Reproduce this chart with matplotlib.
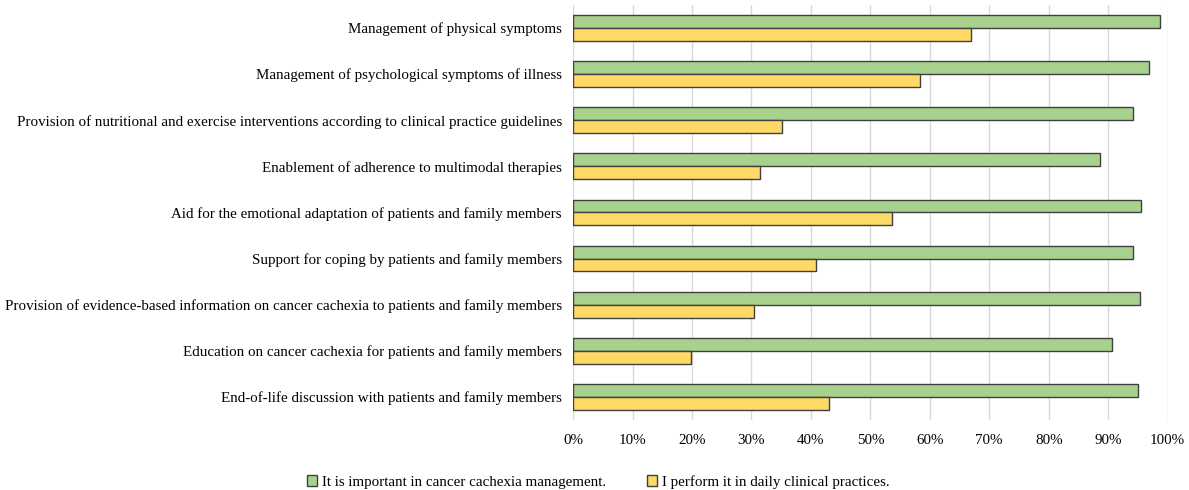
import matplotlib.pyplot as plt
import numpy as np

plt.rcParams['font.family'] = ['Liberation Serif', 'DejaVu Serif']

categories = [
    "Management of physical symptoms",
    "Management of psychological symptoms of illness",
    "Provision of nutritional and exercise interventions according to clinical practice guidelines",
    "Enablement of adherence to multimodal therapies",
    "Aid for the emotional adaptation of patients and family members",
    "Support for coping by patients and family members",
    "Provision of evidence-based information on cancer cachexia to patients and family members",
    "Education on cancer cachexia for patients and family members",
    "End-of-life discussion with patients and family members",
]
important = [98.7, 96.8, 94.1, 88.6, 95.6, 94.1, 95.4, 90.7, 95.0]
perform = [67.0, 58.4, 35.2, 31.5, 53.7, 40.9, 30.5, 19.8, 43.0]
series_names = ["It is important in cancer cachexia management.",
                "I perform it in daily clinical practices."]

fig = plt.figure(figsize=(11.89, 4.9), dpi=100)
axes = fig.add_axes([0.482, 0.143, 0.5, 0.847])

y = np.arange(len(categories))
h = 0.28
axes.barh(y - h/2, important, height=h, color='#A9D18E', edgecolor='#404040',
          linewidth=1.0, label=series_names[0], zorder=3)
axes.barh(y + h/2, perform, height=h, color='#FFD966', edgecolor='#404040',
          linewidth=1.0, label=series_names[1], zorder=3)

axes.set_ylim(len(categories) - 0.5, -0.5)
axes.set_yticks(y)
axes.set_yticklabels(categories, fontsize=10.8)
axes.set_xlim(0, 100)
axes.set_xticks(np.arange(0, 101, 10))
axes.set_xticklabels([f"{v}%" for v in range(0, 101, 10)], fontsize=10.8)
axes.grid(axis='x', color='#D9D9D9', linewidth=1.0, zorder=0)
for s in axes.spines.values():
    s.set_visible(False)
axes.tick_params(length=0, pad=8)
axes.tick_params(axis='x', pad=10)

fig.legend(loc='lower center', bbox_to_anchor=(0.503, -0.025), ncol=2, frameon=False,
           fontsize=10.8, handlelength=0.7, handleheight=0.7, handletextpad=0.3,
           columnspacing=2.7)

plt.savefig('out.png')
